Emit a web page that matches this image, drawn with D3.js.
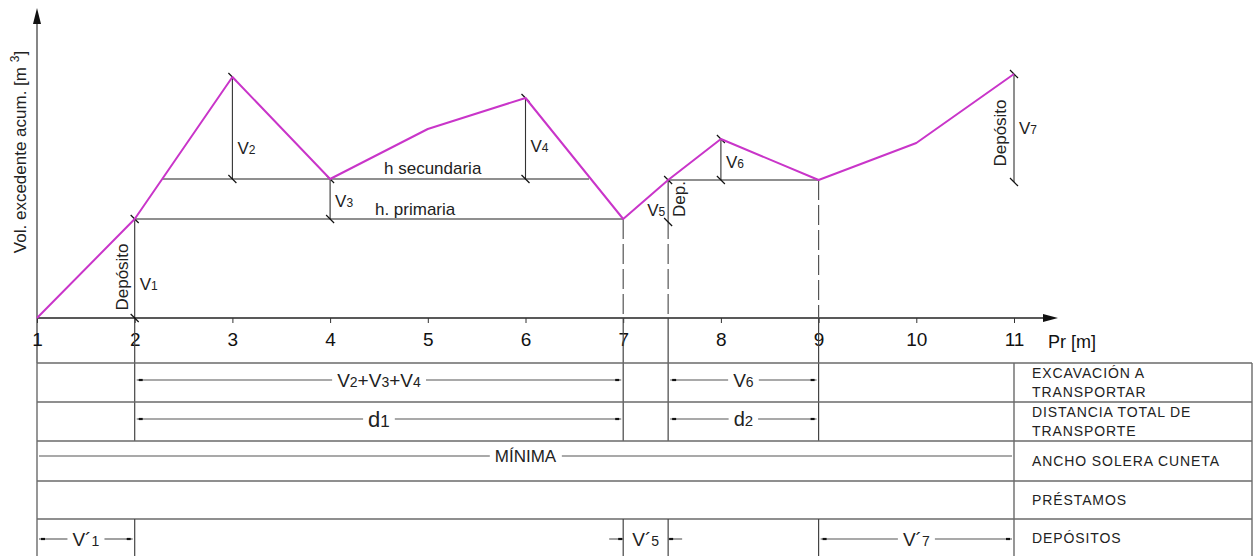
<!DOCTYPE html>
<html>
<head>
<meta charset="utf-8">
<script src="https://cdn.jsdelivr.net/npm/d3@7"></script>
<style>
  body { margin: 0; background: #fff; }
  svg { display: block; font-family: "Liberation Sans", Arial, sans-serif; }
</style>
</head>
<body>
<div id="chart"></div>
<script>
// curva de masas (volumen excedente acumulado)
var stations = [1, 2, 3, 4, 5, 6, 7, 7.46, 8, 9, 10, 11];
var volumes = [0, 99, 241, 139, 189, 220, 99, 138, 179, 138, 175, 244];
var tickValues = [1, 2, 3, 4, 5, 6, 7, 8, 9, 10, 11];
var tickLabels = ["1", "2", "3", "4", "5", "6", "7", "8", "9", "10", "11"];

// cotas verticales
var dimStations = [2, 3, 4, 6, 7.46, 8, 11];
var dimFrom = [0, 139, 99, 139, 99, 138, 136];
var dimTo = [99, 241, 139, 220, 138, 179, 244];
var dimLabels = ["V1", "V2", "V3", "V4", "V5", "V6", "V7"];

// horizontales
var hLevels = [99, 139, 138];
var hFrom = [2, 2.28, 7.46];
var hTo = [7, 6.65, 9];
var hLabels = ["h. primaria", "h secundaria", ""];

// estaciones con linea a trazos hasta el eje
var dashStations = [7, 7.46, 9];
var dashTops = [99, 99, 138];

// tabla inferior
var rowLabels = [["EXCAVACIÓN A", "TRANSPORTAR"], ["DISTANCIA TOTAL DE", "TRANSPORTE"], ["ANCHO SOLERA CUNETA"], ["PRÉSTAMOS"], ["DEPÓSITOS"]];
var tramoFrom = [2, 7.46];
var tramoTo = [7, 9];
var excavLabels = ["V2+V3+V4", "V6"];
var distLabels = ["d1", "d2"];
var anchoLabel = "MÍNIMA";
var depFrom = [1, 7, 9];
var depTo = [2, 7.46, 11];
var depLabels = ["V´1", "V´5", "V´7"];

var W = 1259, H = 556;
var svg = d3.select("#chart").append("svg").attr("width", W).attr("height", H);

var x = d3.scaleLinear().domain([1, 11]).range([37, 1014]);
var y = d3.scaleLinear().domain([0, 310]).range([318, 8]);

var magenta = "#c935c9", dark = "#333", gray = "#6a6a6a";

// texto con subindices (los digitos se dibujan pequenos)
function subText(sel, str, size, ratio) {
  str.split(/(\d)/).forEach(function(p) {
    if (p === "") return;
    var t = sel.append("tspan").text(p);
    if (/\d/.test(p)) t.attr("font-size", Math.round(size * (ratio || 0.68)));
  });
  return sel;
}
function slash(px, py) {
  svg.append("line").attr("x1", px - 4).attr("y1", py - 4).attr("x2", px + 4).attr("y2", py + 4)
    .attr("stroke", "#111").attr("stroke-width", 1.2);
}

// ejes
var base = y(0);
svg.append("line").attr("x1", x(1)).attr("x2", 1045).attr("y1", base).attr("y2", base).attr("stroke", "#222").attr("stroke-width", 1.3);
svg.append("path").attr("d", "M1043," + (base - 4) + "L1058," + base + "L1043," + (base + 4) + "Z").attr("fill", "#111");
svg.append("line").attr("x1", x(1)).attr("x2", x(1)).attr("y1", 363).attr("y2", 22).attr("stroke", "#444").attr("stroke-width", 1.3);
svg.append("path").attr("d", "M" + (x(1) - 4) + ",24L" + x(1) + ",8L" + (x(1) + 4) + ",24Z").attr("fill", "#111");

var xAxis = d3.axisBottom(x).tickValues(tickValues).tickSize(5).tickPadding(10)
  .tickFormat(function(d, i) { return tickLabels[i]; });
var gx = svg.append("g").attr("transform", "translate(0," + base + ")").call(xAxis);
gx.select(".domain").remove();
gx.selectAll("line").attr("stroke", "#333");
gx.selectAll("text").attr("font-size", 19).attr("fill", "#111").attr("font-family", "Liberation Sans, Arial, sans-serif");

svg.append("text").attr("x", 1048).attr("y", 348).attr("font-size", 18).attr("fill", "#111").text("Pr [m]");

var yl = svg.append("text").attr("transform", "translate(26,152) rotate(-90)")
  .attr("text-anchor", "middle").attr("font-size", 17).attr("fill", "#222");
yl.append("tspan").text("Vol. excedente acum. [m ");
yl.append("tspan").attr("font-size", 12).attr("dy", -7).text("3");
yl.append("tspan").attr("dy", 7).text("]");

// horizontales (h primaria, h secundaria)
hLevels.forEach(function(v, i) {
  svg.append("line").attr("x1", x(hFrom[i])).attr("x2", x(hTo[i])).attr("y1", y(v)).attr("y2", y(v))
    .attr("stroke", gray).attr("stroke-width", 1.3);
});
svg.append("text").attr("x", x(4.87)).attr("y", y(hLevels[0]) - 4).attr("text-anchor", "middle")
  .attr("font-size", 17).attr("fill", "#222").text(hLabels[0]);
svg.append("text").attr("x", x(5.05)).attr("y", y(hLevels[1]) - 5).attr("text-anchor", "middle")
  .attr("font-size", 17).attr("fill", "#222").text(hLabels[1]);

// lineas a trazos y prolongacion solida hasta la tabla
dashStations.forEach(function(s, i) {
  svg.append("line").attr("x1", x(s)).attr("x2", x(s)).attr("y1", y(dashTops[i])).attr("y2", base)
    .attr("stroke", "#555").attr("stroke-width", 1.2).attr("stroke-dasharray", "20,5");
  svg.append("line").attr("x1", x(s)).attr("x2", x(s)).attr("y1", base).attr("y2", 441)
    .attr("stroke", "#444").attr("stroke-width", 1.2);
});
svg.append("line").attr("x1", x(2)).attr("x2", x(2)).attr("y1", base).attr("y2", 441).attr("stroke", "#444").attr("stroke-width", 1.2);

// cotas verticales
var labelShift = [15, 20, 2, 7, 10, 2, 0];
dimStations.forEach(function(s, i) {
  var px = x(s), y0 = y(dimFrom[i]), y1 = y(dimTo[i]);
  svg.append("line").attr("x1", px).attr("x2", px).attr("y1", y0).attr("y2", y1).attr("stroke", dark).attr("stroke-width", 1.1);
  slash(px, y0 + (i === 4 ? 3 : 0));
  slash(px, y1);
  var my = (y0 + y1) / 2 + labelShift[i] + 6;
  var lx = i === 4 ? px - 12 : px + 5;
  var t = svg.append("text").attr("x", lx).attr("y", my).attr("font-size", 17).attr("fill", "#222");
  if (i === 4) t.attr("text-anchor", "middle");
  subText(t, dimLabels[i], 17);
});

// textos de deposito
function rotText(px, py, str, size) {
  svg.append("text").attr("transform", "translate(" + px + "," + py + ") rotate(-90)")
    .attr("text-anchor", "middle").attr("font-size", size).attr("fill", "#222").text(str);
}
rotText(x(2) - 7, 277, "Depósito", 17);
rotText(x(11) - 8, 133, "Depósito", 17);
rotText(x(7.46) + 17, 199, "Dep.", 17);

// curva de masas
var line = d3.line().x(function(d, i) { return x(stations[i]); }).y(function(d) { return y(d); });
svg.append("path").datum(volumes).attr("d", line).attr("fill", "none")
  .attr("stroke", magenta).attr("stroke-width", 2).attr("stroke-linejoin", "round");

// ---------- tabla ----------
var rowsY = [363, 402, 441, 481, 519, 556];
var tl = x(1), tr = 1252, tc = x(11);
rowsY.slice(0, 5).forEach(function(ry) {
  svg.append("line").attr("x1", tl).attr("x2", tr).attr("y1", ry).attr("y2", ry).attr("stroke", gray).attr("stroke-width", 1.4);
});
[tl, tc, tr].forEach(function(px) {
  svg.append("line").attr("x1", px).attr("x2", px).attr("y1", 363).attr("y2", 556).attr("stroke", gray).attr("stroke-width", 1.4);
});
[2, 7, 7.46, 9].forEach(function(s) {
  svg.append("line").attr("x1", x(s)).attr("x2", x(s)).attr("y1", 519).attr("y2", 556).attr("stroke", "#444").attr("stroke-width", 1.2);
});

rowLabels.forEach(function(lines, r) {
  var cy = (rowsY[r] + rowsY[r + 1]) / 2;
  var t = svg.append("text").attr("x", 1032).attr("font-size", 14).attr("letter-spacing", 0.9).attr("fill", "#222");
  lines.forEach(function(l, k) {
    t.append("tspan").attr("x", 1032).attr("y", cy + 5 + (k - (lines.length - 1) / 2) * 18.5).text(l);
  });
});

// cota horizontal con texto centrado
function hDim(a, b, ly, str, size, ends) {
  var cx = (a + b) / 2;
  var t = svg.append("text").attr("x", cx).attr("y", ly + size * 0.36).attr("text-anchor", "middle")
    .attr("font-size", size).attr("fill", "#222");
  subText(t, str, size, 0.76);
  var bb = t.node().getBBox();
  if (b - a > 60) {
    svg.append("line").attr("x1", a + 2).attr("x2", bb.x - 5).attr("y1", ly).attr("y2", ly).attr("stroke", "#555").attr("stroke-width", 1.1);
    svg.append("line").attr("x1", bb.x + bb.width + 5).attr("x2", b - 2).attr("y1", ly).attr("y2", ly).attr("stroke", "#555").attr("stroke-width", 1.1);
    if (ends !== false) {
      svg.append("line").attr("x1", a + 4).attr("x2", a + 8).attr("y1", ly).attr("y2", ly).attr("stroke", "#111").attr("stroke-width", 2.2);
      svg.append("line").attr("x1", b - 8).attr("x2", b - 4).attr("y1", ly).attr("y2", ly).attr("stroke", "#111").attr("stroke-width", 2.2);
    }
  } else {
    svg.append("line").attr("x1", a - 14).attr("x2", a).attr("y1", ly).attr("y2", ly).attr("stroke", "#555").attr("stroke-width", 1.1);
    svg.append("line").attr("x1", b).attr("x2", b + 14).attr("y1", ly).attr("y2", ly).attr("stroke", "#555").attr("stroke-width", 1.1);
    svg.append("line").attr("x1", a - 5).attr("x2", a - 1).attr("y1", ly).attr("y2", ly).attr("stroke", "#111").attr("stroke-width", 2.2);
    svg.append("line").attr("x1", b + 1).attr("x2", b + 5).attr("y1", ly).attr("y2", ly).attr("stroke", "#111").attr("stroke-width", 2.2);
  }
}
tramoFrom.forEach(function(s, i) {
  hDim(x(s), x(tramoTo[i]), 380, excavLabels[i], 19);
  hDim(x(s), x(tramoTo[i]), 419, distLabels[i], i === 0 ? 22 : 20);
});
hDim(tl, tc, 456, anchoLabel, 17, false);
depFrom.forEach(function(s, i) {
  hDim(x(s), x(depTo[i]), 539, depLabels[i], 19);
});
</script>
</body>
</html>
